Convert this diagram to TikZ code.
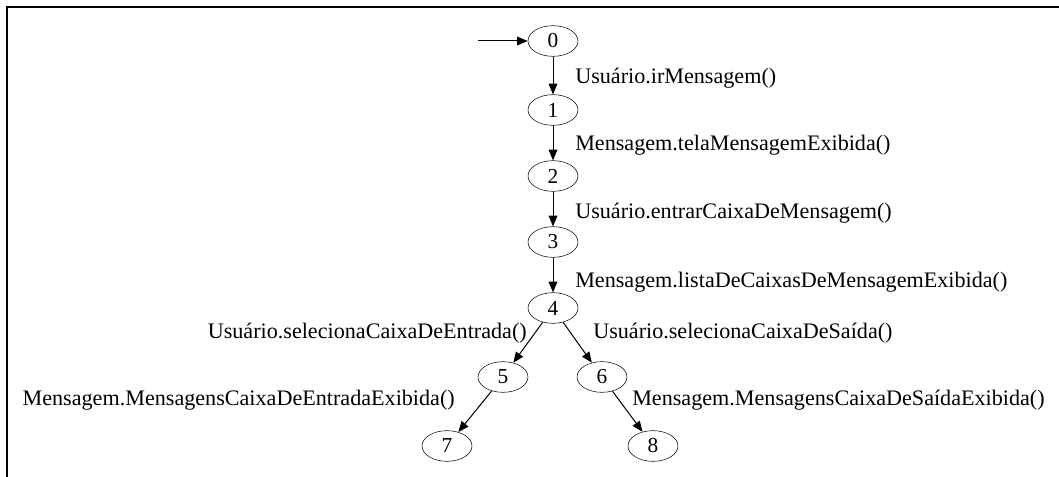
\documentclass[tikz,border=0pt]{standalone}
\usepackage{fontspec}
\setmainfont{Liberation Serif}
\usetikzlibrary{shapes.geometric,arrows.meta}

\begin{document}
\begin{tikzpicture}[x=0.75pt,y=-0.75pt,
  state/.style={draw,ellipse,minimum width=37.5pt,minimum height=23pt,inner sep=0,font=\fontsize{16}{19}\selectfont},
  lbl/.style={inner sep=0,font=\fontsize{16.6}{19}\selectfont},
  trans/.style={-{Triangle[length=8pt,width=6.5pt]},line width=0.75pt}]
  \useasboundingbox (0,0) rectangle (1059,477);
  \draw[line width=1.8pt] (1059,7) -- (7,7) -- (7,477);
  % states
  \node[state] (0) at (553,41) {0};
  \node[state] (1) at (553,110) {1};
  \node[state] (2) at (553,176) {2};
  \node[state] (3) at (553,242) {3};
  \node[state] (4) at (553,308) {4};
  \node[state] (5) at (503,377) {5};
  \node[state] (6) at (602,377) {6};
  \node[state] (7) at (447,446) {7};
  \node[state] (8) at (653,446) {8};
  \coordinate (start) at (478,41);
  % transitions
  \draw[trans] (start) -- (0);
  \draw[trans] (0) -- (1);
  \draw[trans] (1) -- (2);
  \draw[trans] (2) -- (3);
  \draw[trans] (3) -- (4);
  \draw[trans] (4) -- (5);
  \draw[trans] (4) -- (6);
  \draw[trans] (5) -- (7);
  \draw[trans] (6) -- (8);
  % labels
  \node[lbl,anchor=west] (l01) at (575,78) {Usuário.irMensagem()};
  \node[lbl,anchor=west] (l12) at (575,145) {Mensagem.telaMensagemExibida()};
  \node[lbl,anchor=west] (l23) at (575,213) {Usuário.entrarCaixaDeMensagem()};
  \node[lbl,anchor=west] (l34) at (575,282) {Mensagem.listaDeCaixasDeMensagemExibida()};
  \node[lbl,anchor=east] (l45) at (527,333) {Usuário.selecionaCaixaDeEntrada()};
  \node[lbl,anchor=west] (l46) at (593,333) {Usuário.selecionaCaixaDeSaída()};
  \node[lbl,anchor=east] (l57) at (455,400) {Mensagem.MensagensCaixaDeEntradaExibida()};
  \node[lbl,anchor=west] (l68) at (632,400) {Mensagem.MensagensCaixaDeSaídaExibida()};
\end{tikzpicture}
\end{document}
